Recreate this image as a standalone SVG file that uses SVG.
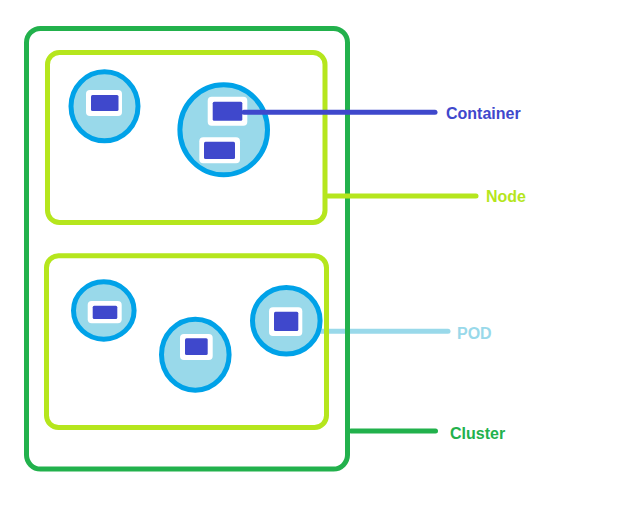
<svg xmlns="http://www.w3.org/2000/svg" width="627" height="506" viewBox="0 0 627 506">
<style>
.cluster{fill:none;stroke:#22B14C;stroke-width:5}
.node{fill:none;stroke:#B5E61D;stroke-width:5}
.pod{fill:#99D9EA;stroke:#00A2E8;stroke-width:5}
.cw{fill:#FFFFFF}
.cd{fill:#3F48CC}
.line{fill:none;stroke-width:5;stroke-linecap:round}
.lbl{font-family:"Liberation Sans",Arial,sans-serif;font-weight:bold;font-size:16px}
</style>
<rect width="627" height="506" fill="#FFFFFF"/>
<g id="connectors-back">
<line class="line" x1="318" y1="331.3" x2="448" y2="331.3" stroke="#99D9EA"/>
</g>
<g id="cluster">
<rect class="cluster" x="26.5" y="28.5" width="321" height="440.5" rx="14"/>
</g>
<g id="node1">
<rect class="node" x="47.5" y="52.5" width="277.5" height="170" rx="12"/>
</g>
<g id="node2">
<rect class="node" x="46.5" y="255.8" width="280" height="171.7" rx="12"/>
</g>
<g id="pod1">
<ellipse class="pod" cx="104.5" cy="106.3" rx="33.5" ry="34.5"/>
<rect class="cw" x="86" y="90" width="36" height="26" rx="4"/>
<rect class="cd" x="91" y="95" width="27.5" height="16" rx="1.5"/>
</g>
<g id="pod2">
<ellipse class="pod" cx="223.7" cy="129.8" rx="43.8" ry="45"/>
<rect class="cw" x="207.7" y="96.7" width="39.6" height="29" rx="4"/>
<rect class="cd" x="212.7" y="101.7" width="29.6" height="19" rx="1.5"/>
<rect class="cw" x="199.3" y="137.3" width="40.7" height="26" rx="4"/>
<rect class="cd" x="204" y="141.7" width="31" height="17.3" rx="1.5"/>
</g>
<g id="pod3">
<ellipse class="pod" cx="103.8" cy="310.5" rx="30.3" ry="28.7"/>
<rect class="cw" x="87.7" y="301" width="34" height="22.3" rx="4"/>
<rect class="cd" x="92.7" y="305.7" width="24.6" height="13.3" rx="1.5"/>
</g>
<g id="pod4">
<ellipse class="pod" cx="195.3" cy="354.7" rx="33.8" ry="35.5"/>
<rect class="cw" x="180" y="334" width="32.7" height="26" rx="4"/>
<rect class="cd" x="185" y="338.3" width="22.7" height="16.7" rx="1.5"/>
</g>
<g id="pod5">
<ellipse class="pod" cx="286.3" cy="320.8" rx="33.8" ry="33.3"/>
<rect class="cw" x="269" y="307.3" width="33.3" height="28.7" rx="4"/>
<rect class="cd" x="274" y="311.7" width="24.3" height="19.3" rx="1.5"/>
</g>
<g id="connectors">
<line class="line" x1="244" y1="112.3" x2="435" y2="112.3" stroke="#3F48CC"/>
<line class="line" x1="328" y1="196" x2="476" y2="196" stroke="#B5E61D"/>
<line class="line" x1="351" y1="431" x2="435.5" y2="431" stroke="#22B14C"/>
</g>
<g id="labels">
<text class="lbl" x="446" y="118.5" fill="#3F48CC">Container</text>
<text class="lbl" x="486" y="201.5" fill="#B5E61D">Node</text>
<text class="lbl" x="457" y="338.5" fill="#99D9EA">POD</text>
<text class="lbl" x="450" y="439" fill="#22B14C">Cluster</text>
</g>
</svg>
